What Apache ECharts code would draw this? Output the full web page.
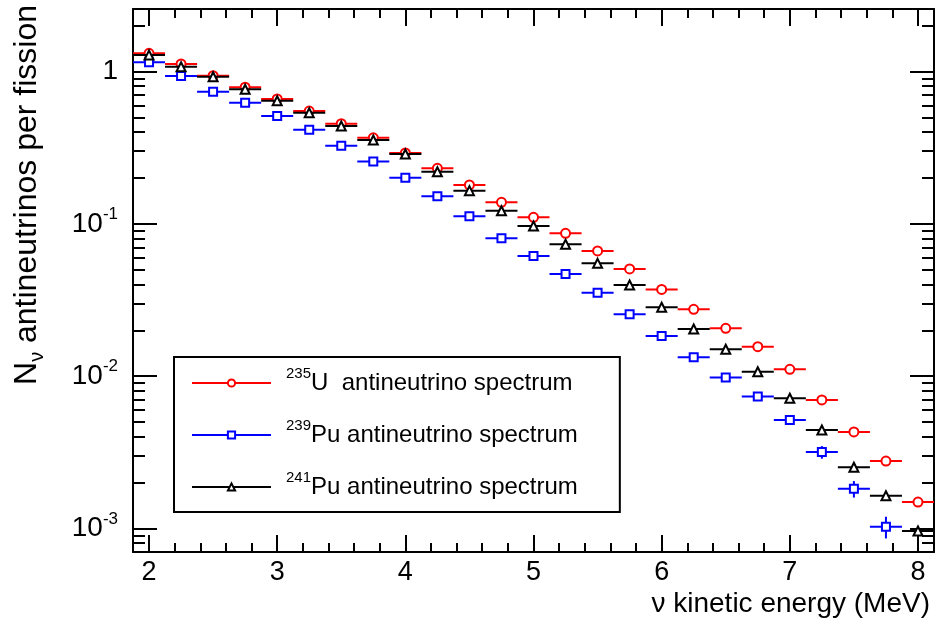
<!DOCTYPE html>
<html><head><meta charset="utf-8">
<script src="https://cdn.jsdelivr.net/npm/echarts@6/dist/echarts.min.js"></script>
<style>html,body{margin:0;padding:0;background:#fff}#chart{width:938px;height:639px}</style>
</head><body><div id="chart"></div>
<script>
// ---- data ----
const energies = [2.0, 2.25, 2.5, 2.75, 3.0, 3.25, 3.5, 3.75, 4.0, 4.25, 4.5, 4.75, 5.0, 5.25, 5.5, 5.75, 6.0, 6.25, 6.5, 6.75, 7.0, 7.25, 7.5, 7.75, 8.0];
const u235 = [1.317, 1.120, 0.938, 0.788, 0.660, 0.550, 0.454, 0.367, 0.2916, 0.2314, 0.1798, 0.1384, 0.1103, 0.0866, 0.0663, 0.0505, 0.0371, 0.02745, 0.0206, 0.0156, 0.01108, 0.00697, 0.00430, 0.00277, 0.00149];
const pu239 = [1.149, 0.934, 0.737, 0.624, 0.510, 0.415, 0.326, 0.256, 0.2008, 0.1516, 0.1120, 0.0803, 0.0614, 0.0468, 0.0353, 0.02545, 0.01834, 0.01328, 0.00979, 0.00735, 0.00515, 0.00317, 0.00182, 0.001026];
const pu241 = [1.283, 1.075, 0.924, 0.764, 0.643, 0.536, 0.4386, 0.355, 0.287, 0.2198, 0.165, 0.1219, 0.0967, 0.0734, 0.0550, 0.0396, 0.0283, 0.0204, 0.0150, 0.01069, 0.00715, 0.00443, 0.00252, 0.00164, 0.000961];
const pu239Err = [0, 0, 0, 0, 0, 0, 0, 0, 0, 0, 0, 0, 0, 0, 0, 0, 0, 0, 0, 0, 0.0003, 0.0003, 0.000225, 0.000167];
const binWidth = 0.25;
const massNumbers = ['235', '239', '241'];
const elements = ['U', 'Pu', 'Pu'];
const seriesNames = ['235U antineutrino spectrum', '239Pu antineutrino spectrum', '241Pu antineutrino spectrum'];
const xTickLabels = [2, 3, 4, 5, 6, 7, 8];
const xMinorTicks = [2.2, 2.4, 2.6, 2.8, 3.2, 3.4, 3.6, 3.8, 4.2, 4.4, 4.6, 4.8, 5.2, 5.4, 5.6, 5.8, 6.2, 6.4, 6.6, 6.8, 7.2, 7.4, 7.6, 7.8];
const yTickValues = [0.001, 0.01, 0.1, 1];
const yMinorTicks = [0.0007, 0.0008, 0.0009, 0.002, 0.003, 0.004, 0.005, 0.006, 0.007, 0.008, 0.009,
  0.02, 0.03, 0.04, 0.05, 0.06, 0.07, 0.08, 0.09, 0.2, 0.3, 0.4, 0.5, 0.6, 0.7, 0.8, 0.9, 2];
const xRange = [1.875, 8.125];
const yRange = [0.0007, 2.572];

// ---- styles ----
const FONT = '"Liberation Sans", Arial, Helvetica, sans-serif';
const specs = [
  { values: u235, err: null, color: '#ff0000', symbol: 'emptyCircle', size: 9 },
  { values: pu239, err: pu239Err, color: '#0000ff', symbol: 'emptyRect', size: 8 },
  { values: pu241, err: null, color: '#000000', symbol: 'emptyTriangle', size: 9 }
];

function makeRenderer(color) {
  return function (params, api) {
    const x = api.value(0), y = api.value(1), e = api.value(2);
    const a = api.coord([x - binWidth / 2, y]);
    const b = api.coord([x + binWidth / 2, y]);
    const kids = [{ type: 'line', shape: { x1: a[0], y1: a[1], x2: b[0], y2: b[1] }, style: { stroke: color, lineWidth: 2 } }];
    if (e > 0) {
      const t = api.coord([x, y + e]);
      const d = api.coord([x, y - e]);
      kids.push({ type: 'line', shape: { x1: t[0], y1: t[1], x2: d[0], y2: d[1] }, style: { stroke: color, lineWidth: 2 } });
    }
    return { type: 'group', children: kids };
  };
}

const series = [];
specs.forEach((s, k) => {
  const pts = s.values.map((v, i) => [energies[i], v, s.err ? s.err[i] : 0]);
  series.push({
    type: 'custom', name: seriesNames[k] + ' bins', z: 2 * k + 1, clip: true,
    renderItem: makeRenderer(s.color), data: pts,
    encode: { x: 0, y: 1 }, silent: true
  });
  series.push({
    type: 'line', name: seriesNames[k], z: 2 * k + 2,
    data: s.values.map((v, i) => [energies[i], v]),
    symbol: s.symbol, symbolSize: s.size, showSymbol: true, showAllSymbol: true,
    color: s.color,
    itemStyle: { color: s.color, borderWidth: 2 },
    lineStyle: { color: s.color, width: 2, opacity: 0 },
    silent: true
  });
});

const tickStyle = { color: '#000', width: 2 };
function xAx(pos, major) {
  return {
    type: 'value', position: pos, min: xRange[0], max: xRange[1], gridIndex: 0,
    splitLine: { show: false },
    axisLine: { show: major, lineStyle: { color: '#000', width: 2 } },
    axisTick: { show: true, inside: true, length: major ? 17 : 9, lineStyle: tickStyle, customValues: major ? xTickLabels : xMinorTicks },
    axisLabel: { show: false }
  };
}
function yAx(pos, major) {
  return {
    type: 'log', logBase: 10, position: pos, min: yRange[0], max: yRange[1], gridIndex: 0,
    splitLine: { show: false },
    axisLine: { show: major, lineStyle: { color: '#000', width: 2 } },
    axisTick: { show: true, inside: true, length: major ? 24 : 12, lineStyle: tickStyle, customValues: major ? yTickValues : yMinorTicks },
    axisLabel: { show: false }
  };
}

const xAxes = [xAx('bottom', true), xAx('bottom', false), xAx('top', true), xAx('top', false)];
xAxes[0].axisLabel = { show: true, customValues: xTickLabels, fontSize: 27, fontFamily: FONT, color: '#000', margin: 7 };
xAxes[0].name = 'ν kinetic energy (MeV)';
xAxes[0].nameLocation = 'end';
xAxes[0].nameGap = -4;
xAxes[0].nameMoveOverlap = false;
xAxes[0].nameTextStyle = { fontSize: 28, fontFamily: FONT, color: '#000', align: 'right', verticalAlign: 'top', lineHeight: 30, padding: [37, 0, 0, 0] };

const yAxes = [yAx('left', true), yAx('left', false), yAx('right', true), yAx('right', false)];
yAxes[0].axisLabel = {
  show: true, customValues: yTickValues, fontSize: 28, lineHeight: 36, fontFamily: FONT, color: '#000', margin: 15,
  formatter: v => v >= 1 ? '1' : '10{sup|' + Math.round(Math.log10(v)) + '}',
  rich: { sup: { fontSize: 17, lineHeight: 17, verticalAlign: 'top', fontFamily: FONT, color: '#000' } }
};
yAxes[0].name = '{n|N}{sub|ν} antineutrinos per fission';
yAxes[0].nameLocation = 'end';
yAxes[0].nameGap = 4;
yAxes[0].nameRotate = 90;
yAxes[0].nameMoveOverlap = false;
yAxes[0].nameTextStyle = {
  fontSize: 32, lineHeight: 40, fontFamily: FONT, color: '#000', align: 'right', verticalAlign: 'bottom', padding: [0, 0, 86, 0],
  rich: { n: { fontSize: 32, lineHeight: 40, fontFamily: FONT, color: '#000' }, sub: { fontSize: 20, lineHeight: 20, verticalAlign: 'bottom', fontFamily: FONT, color: '#000' } }
};

const option = {
  animation: false,
  backgroundColor: '#fff',
  grid: { left: 133, right: 4, top: 9, bottom: 87, containLabel: false, outerBoundsMode: 'none' },
  xAxis: xAxes,
  yAxis: yAxes,
  legend: {
    orient: 'vertical', left: 174, top: 357,
    padding: [9, 42, 8, 17],
    itemWidth: 79, itemHeight: 9, itemGap: 18,
    borderColor: '#000', borderWidth: 2, backgroundColor: '#fff', borderRadius: 0,
    selectedMode: false,
    data: seriesNames,
    lineStyle: { opacity: 1, width: 2 },
    formatter: name => {
      const k = seriesNames.indexOf(name);
      const rest = name.slice(massNumbers[k].length + elements[k].length).trim();
      return '{sup|' + massNumbers[k] + '}' + elements[k] + (elements[k] === 'U' ? '  ' : ' ') + rest;
    },
    textStyle: {
      fontSize: 24, lineHeight: 34, fontFamily: FONT, color: '#000', padding: [0, 0, 0, 10],
      rich: { sup: { fontSize: 15, lineHeight: 15, verticalAlign: 'top', fontFamily: FONT, color: '#000' } }
    }
  },
  series: series
};
const chart = echarts.init(document.getElementById('chart'), null, { renderer: 'canvas' });
chart.setOption(option);
</script>
</body></html>
